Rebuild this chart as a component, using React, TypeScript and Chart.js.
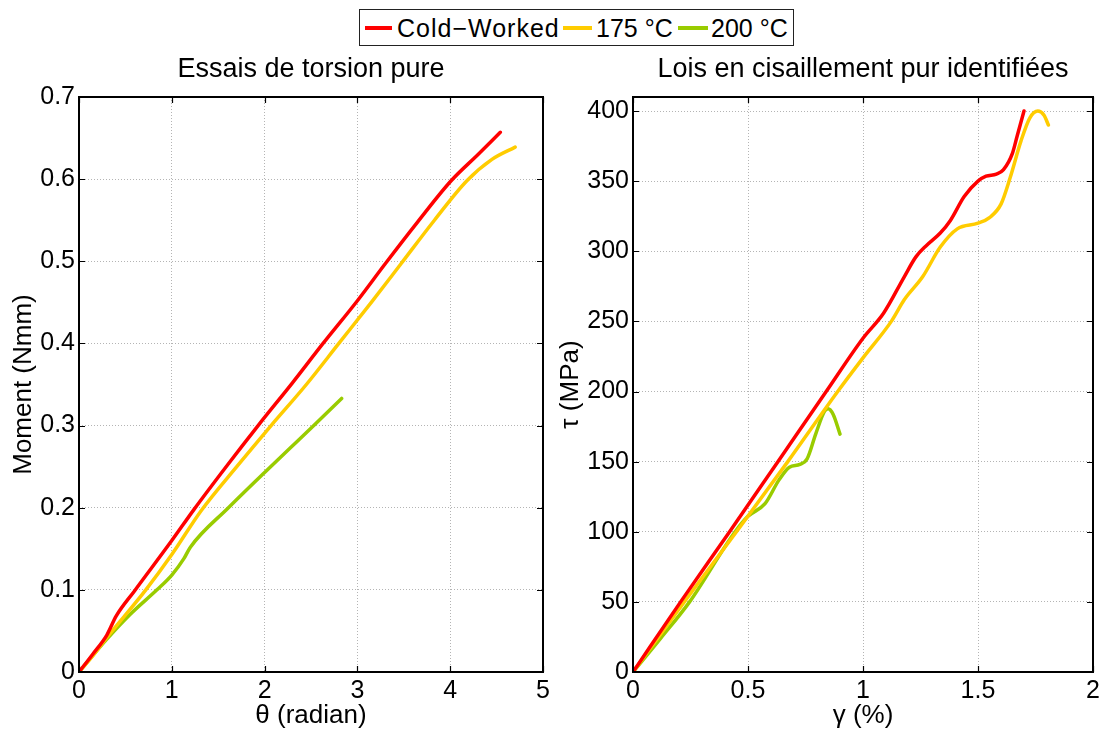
import React, { useEffect, useRef } from "react";
import { Chart, registerables } from "chart.js";

Chart.register(...registerables);

// ---------- data ----------
const seriesLabels = ["Cold\u2212Worked", "175 °C", "200 °C"];
const seriesColors = ["#ff0000", "#ffcc00", "#99cc00"];

// Left subplot: Essais de torsion pure (theta [rad] vs Moment [Nmm])
const thetaCold = [0, 0.15, 0.3, 0.4, 0.6, 1.0, 1.24, 1.6, 1.93, 2.3, 2.63, 3.0, 3.3, 3.65, 4.01, 4.3, 4.54];
const momentCold = [0, 0.022, 0.045, 0.068, 0.099, 0.16, 0.198, 0.252, 0.3, 0.352, 0.4, 0.452, 0.497, 0.548, 0.598, 0.63, 0.657];
const theta175 = [0, 0.15, 0.3, 0.72, 1.0, 1.32, 1.7, 2.07, 2.45, 2.8, 3.15, 3.47, 3.83, 4.18, 4.45, 4.7];
const moment175 = [0, 0.02, 0.042, 0.1, 0.143, 0.197, 0.25, 0.3, 0.35, 0.4, 0.45, 0.497, 0.55, 0.598, 0.624, 0.639];
const theta200 = [0, 0.3, 0.55, 0.84, 1.0, 1.13, 1.2, 1.61, 2.0, 2.27, 2.53, 2.83];
const moment200 = [0, 0.04, 0.07, 0.1, 0.118, 0.138, 0.152, 0.2, 0.243, 0.272, 0.3, 0.333];

// Right subplot: Lois en cisaillement pur identifiées (gamma [%] vs tau [MPa])
const gammaCold = [0, 0.207, 0.42, 0.63, 0.84, 1.0, 1.09, 1.18, 1.23, 1.275, 1.336, 1.38, 1.44, 1.5, 1.535, 1.58, 1.61, 1.65, 1.67, 1.7];
const tauCold = [0, 50, 100, 150, 200, 238, 256, 282, 296, 304, 313, 322, 339, 350, 353.5, 355, 358, 370, 382, 400];
const gamma175 = [0, 0.223, 0.45, 0.673, 0.89, 1.0, 1.123, 1.18, 1.26, 1.336, 1.41, 1.5, 1.55, 1.6, 1.64, 1.687, 1.725, 1.76, 1.787, 1.806];
const tau175 = [0, 50, 100, 150, 200, 224, 250, 265.6, 282, 303, 316, 320, 324, 333.6, 352.6, 378.7, 395, 400, 397, 390];
const gamma200 = [0, 0.12, 0.246, 0.444, 0.5, 0.574, 0.635, 0.68, 0.726, 0.757, 0.795, 0.833, 0.848, 0.87, 0.9];
const tau200 = [0, 24, 50, 100, 111, 120, 137, 146, 148, 152, 170, 186, 187.7, 183.8, 169.6];

// ticks
const leftXTicks = [0, 1, 2, 3, 4, 5];
const leftYTicks = [0, 0.1, 0.2, 0.3, 0.4, 0.5, 0.6, 0.7];
const rightXTicks = [0, 0.5, 1, 1.5, 2];
const rightYTicks = [0, 50, 100, 150, 200, 250, 300, 350, 400];

const titles = ["Essais de torsion pure", "Lois en cisaillement pur identifiées"];
const axisTitles = { leftX: "θ (radian)", leftY: "Moment (Nmm)", rightX: "γ (%)", rightY: "τ (MPa)" };

// ---------- helpers ----------
const FONT = '"Liberation Sans", Arial, Helvetica, sans-serif';
const W = 1105;
const H = 731;

const zip = (xs: number[], ys: number[]) => xs.map((x, i) => ({ x, y: ys[i] }));

const framePlugin = {
  id: "frame",
  afterDraw(chart: any, _args: any, opts: any) {
    const { ctx, chartArea: a, scales } = chart;
    ctx.save();
    ctx.strokeStyle = "#000";
    ctx.lineWidth = 1.2;
    const L = 6;
    ctx.beginPath();
    scales.x.ticks.forEach((t: any) => {
      const px = Math.round(scales.x.getPixelForValue(t.value)) + 0.5;
      ctx.moveTo(px, a.bottom);
      ctx.lineTo(px, a.bottom - L);
      ctx.moveTo(px, a.top);
      ctx.lineTo(px, a.top + L);
    });
    scales.y.ticks.forEach((t: any) => {
      const py = Math.round(scales.y.getPixelForValue(t.value)) + 0.5;
      ctx.moveTo(a.left, py);
      ctx.lineTo(a.left + L, py);
      ctx.moveTo(a.right, py);
      ctx.lineTo(a.right - L, py);
    });
    ctx.stroke();
    ctx.lineWidth = 2;
    ctx.strokeRect(a.left, a.top, a.right - a.left, a.bottom - a.top);
    ctx.fillStyle = "#000";
    ctx.font = `27px ${FONT}`;
    ctx.textAlign = "center";
    ctx.textBaseline = "middle";
    ctx.fillText(opts.text, (a.left + a.right) / 2, opts.y);
    ctx.restore();
  },
};

function makeOptions(cfg: {
  padLeft: number;
  padRight: number;
  yWidth: number;
  xMin: number;
  xMax: number;
  yMin: number;
  yMax: number;
  xTicks: number[];
  yTicks: number[];
  xTitle: string;
  yTitle: string;
  yTitlePad: number;
  title: string;
}) {
  const tickFont = { family: FONT, size: 25 };
  const titleFont = { family: FONT, size: 26 };
  const grid = { color: "#b4b4b4", lineWidth: 1, drawTicks: false };
  const border = { display: false, dash: [1, 2] };
  return {
    responsive: false,
    animation: false as const,
    layout: { padding: { left: cfg.padLeft, right: cfg.padRight, top: 97, bottom: 0 } },
    plugins: {
      legend: { display: false },
      tooltip: { enabled: false },
      title: { display: false },
      frame: { text: cfg.title, y: 70 },
    },
    elements: { point: { radius: 0 } },
    scales: {
      x: {
        type: "linear" as const,
        min: cfg.xMin,
        max: cfg.xMax,
        grid,
        border,
        afterFit: (s: any) => {
          s.height = 59;
        },
        afterBuildTicks: (s: any) => {
          s.ticks = cfg.xTicks.map((v) => ({ value: v }));
        },
        ticks: {
          color: "#000",
          font: tickFont,
          padding: 4,
          maxRotation: 0,
          autoSkip: false,
          callback: (v: any) => String(v),
        },
        title: { display: true, text: cfg.xTitle, color: "#000", font: titleFont, padding: { top: 2, bottom: 0 } },
      },
      y: {
        type: "linear" as const,
        min: cfg.yMin,
        max: cfg.yMax,
        grid,
        border,
        afterFit: (s: any) => {
          s.width = cfg.yWidth;
        },
        afterBuildTicks: (s: any) => {
          s.ticks = cfg.yTicks.map((v) => ({ value: v }));
        },
        ticks: {
          color: "#000",
          font: tickFont,
          padding: 4,
          autoSkip: false,
          callback: (v: any) => String(v),
        },
        title: { display: true, text: cfg.yTitle, color: "#000", font: titleFont, padding: { top: cfg.yTitlePad, bottom: 0 } },
      },
    },
  };
}

function ds(label: string, color: string, data: { x: number; y: number }[]) {
  return {
    label,
    data,
    showLine: true,
    borderColor: color,
    backgroundColor: color,
    borderWidth: 3.5,
    pointRadius: 0,
    tension: 0.4,
    cubicInterpolationMode: "monotone" as const,
    borderCapStyle: "round" as const,
    borderJoinStyle: "round" as const,
  };
}

export default function App() {
  const leftRef = useRef<HTMLCanvasElement>(null);
  const rightRef = useRef<HTMLCanvasElement>(null);

  useEffect(() => {
    const left = new Chart(leftRef.current as HTMLCanvasElement, {
      type: "scatter",
      data: {
        datasets: [
          ds(seriesLabels[0], seriesColors[0], zip(thetaCold, momentCold)),
          ds(seriesLabels[1], seriesColors[1], zip(theta175, moment175)),
          ds(seriesLabels[2], seriesColors[2], zip(theta200, moment200)),
        ],
      },
      options: makeOptions({
        padLeft: 0,
        padRight: W - 543,
        yWidth: 79,
        xMin: 0,
        xMax: 5,
        yMin: 0,
        yMax: 0.7,
        xTicks: leftXTicks,
        yTicks: leftYTicks,
        xTitle: axisTitles.leftX,
        yTitle: axisTitles.leftY,
        yTitlePad: 8,
        title: titles[0],
      }) as any,
      plugins: [framePlugin],
    });
    const right = new Chart(rightRef.current as HTMLCanvasElement, {
      type: "scatter",
      data: {
        datasets: [
          ds(seriesLabels[0], seriesColors[0], zip(gammaCold, tauCold)),
          ds(seriesLabels[1], seriesColors[1], zip(gamma175, tau175)),
          ds(seriesLabels[2], seriesColors[2], zip(gamma200, tau200)),
        ],
      },
      options: makeOptions({
        padLeft: 545,
        padRight: W - 1093,
        yWidth: 88,
        xMin: 0,
        xMax: 2,
        yMin: 0,
        yMax: 410,
        xTicks: rightXTicks,
        yTicks: rightYTicks,
        xTitle: axisTitles.rightX,
        yTitle: axisTitles.rightY,
        yTitlePad: 10,
        title: titles[1],
      }) as any,
      plugins: [framePlugin],
    });
    return () => {
      left.destroy();
      right.destroy();
    };
  }, []);

  const legendLines = [
    { left: 365, width: 27 },
    { left: 563, width: 29 },
    { left: 678, width: 30 },
  ];
  const legendTexts = [397, 596, 711];
  const legendSpacing = [1, 0, 0];

  return (
    <div style={{ position: "fixed", left: 0, top: 0, width: W, height: H, background: "#fff" }}>
      <canvas ref={leftRef} width={W} height={H} style={{ position: "absolute", left: 0, top: 0 }} />
      <canvas ref={rightRef} width={W} height={H} style={{ position: "absolute", left: 0, top: 0 }} />
      <div
        style={{
          position: "absolute",
          left: 359,
          top: 9,
          width: 435,
          height: 37,
          boxSizing: "border-box",
          border: "1.5px solid #222",
          background: "#fff",
        }}
      />
      {seriesLabels.map((lab, i) => (
        <React.Fragment key={lab}>
          <div
            style={{
              position: "absolute",
              left: legendLines[i].left,
              top: 26,
              width: legendLines[i].width,
              height: 4,
              background: seriesColors[i],
            }}
          />
          <span
            style={{
              position: "absolute",
              left: legendTexts[i],
              top: 13,
              fontFamily: FONT,
              fontSize: 25,
              lineHeight: "30px",
              letterSpacing: legendSpacing[i],
              color: "#000",
              whiteSpace: "nowrap",
            }}
          >
            {lab}
          </span>
        </React.Fragment>
      ))}
    </div>
  );
}
